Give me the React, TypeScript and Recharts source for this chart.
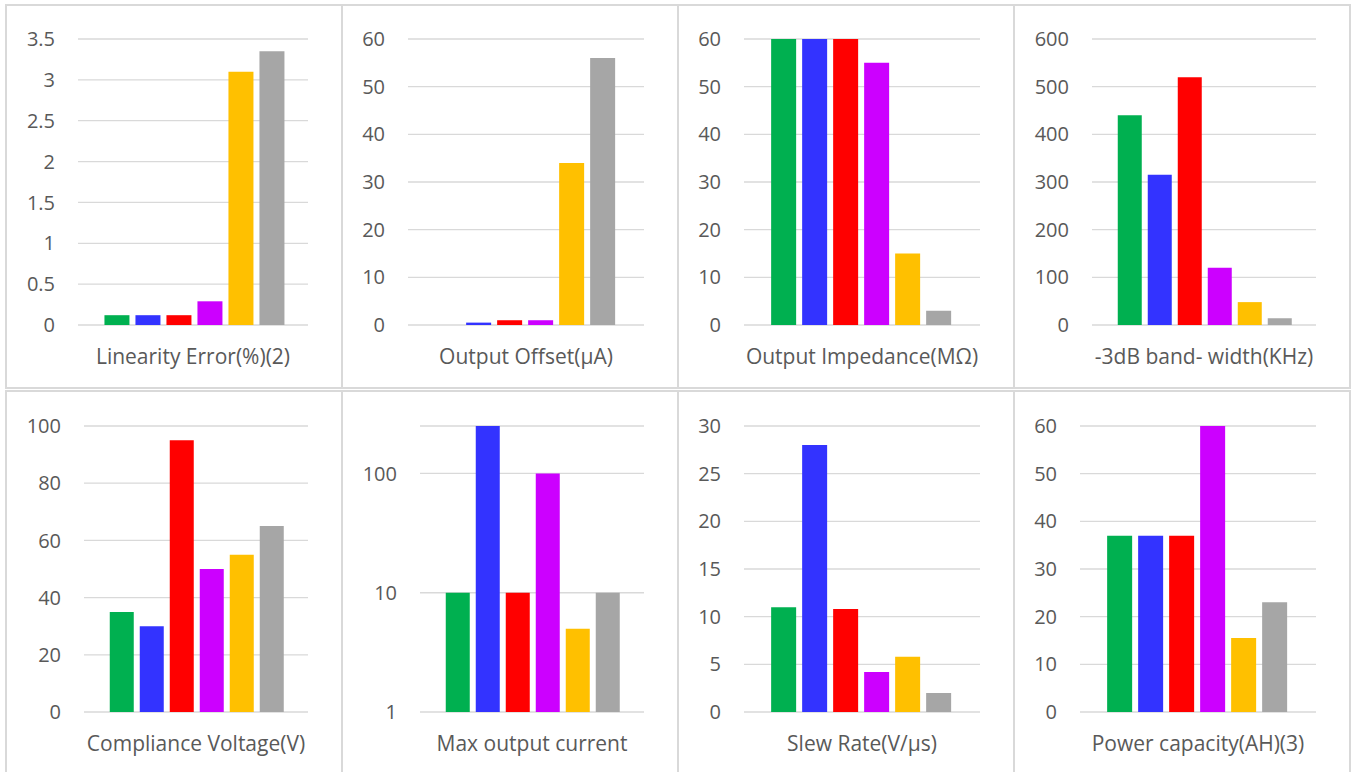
import React from "react";
import { BarChart, Bar, XAxis, YAxis, CartesianGrid } from "recharts";

// one category per small chart
const metrics = [
  "Linearity Error(%)(2)",
  "Output Offset(μA)",
  "Output Impedance(MΩ)",
  "-3dB band- width(KHz)",
  "Compliance Voltage(V)",
  "Max output current",
  "Slew Rate(V/μs)",
  "Power capacity(AH)(3)",
];

// values per series, in the order of metrics
const greenVals = [0.12, 0, 60, 440, 35, 10, 11, 37];
const blueVals = [0.12, 0.5, 60, 315, 30, 250, 28, 37];
const redVals = [0.12, 1, 60, 520, 95, 10, 10.8, 37];
const purpleVals = [0.29, 1, 55, 120, 50, 100, 4.2, 60];
const orangeVals = [3.1, 34, 15, 48, 55, 5, 5.8, 15.5];
const grayVals = [3.35, 56, 3, 14, 65, 10, 2, 23];

const seriesVals = [greenVals, blueVals, redVals, purpleVals, orangeVals, grayVals];
const colors = ["#00B050", "#3333FF", "#FF0000", "#CC00FF", "#FFC000", "#A6A6A6"];

const yTicks = [
  [0, 0.5, 1, 1.5, 2, 2.5, 3, 3.5],
  [0, 10, 20, 30, 40, 50, 60],
  [0, 10, 20, 30, 40, 50, 60],
  [0, 100, 200, 300, 400, 500, 600],
  [0, 20, 40, 60, 80, 100],
  [1, 10, 100],
  [0, 5, 10, 15, 20, 25, 30],
  [0, 10, 20, 30, 40, 50, 60],
];
const yMax = [3.5, 60, 60, 600, 100, 250, 30, 60];

const FONT = "'Open Sans', Lato, sans-serif";
const TXT = "#595959";

const panelLeft = [5, 341, 677, 1013];
const yAxisWidth = [73, 67, 67, 79, 79, 79, 67, 67];

function Panel({ i }: { i: number }) {
  const row = i < 4 ? 0 : 1;
  const left = panelLeft[i % 4];
  const top = row === 0 ? 4 : 390;
  const h = row === 0 ? 385 : 384;
  const row0: Record<string, string | number> = { name: metrics[i] };
  seriesVals.forEach((vals, k) => {
    row0["s" + k] = vals[i];
  });
  const isLog = i === 5;

  return (
    <div
      style={{
        position: "absolute",
        left,
        top,
        width: 338,
        height: h,
        border: "2px solid #D9D9D9",
        boxSizing: "border-box",
      }}
    >
      <BarChart
        width={334}
        height={h - 4}
        data={[row0]}
        margin={{ top: row === 0 ? 33 : 34, right: 33, bottom: row === 0 ? 22 : 20, left: -2 }}
        barCategoryGap="11.5%"
        barGap={6}
        style={{ position: "absolute", left: 0, top: 0 }}
      >
        <CartesianGrid vertical={false} stroke="#D9D9D9" strokeWidth={1.3} />
        <XAxis
          dataKey="name"
          type="category"
          height={40}
          axisLine={false}
          tickLine={false}
          tickSize={0}
          tickMargin={24}
          tick={{ fill: TXT, fontSize: 21, fontFamily: FONT }}
        />
        <YAxis
          type="number"
          width={yAxisWidth[i]}
          scale={isLog ? "log" : "auto"}
          domain={[isLog ? 1 : 0, yMax[i]]}
          ticks={yTicks[i]}
          allowDataOverflow
          axisLine={false}
          tickLine={false}
          tickSize={0}
          tickMargin={23}
          interval={0}
          tick={{ fill: TXT, fontSize: 20, fontFamily: FONT }}
        />
        {colors.map((c, k) => (
          <Bar key={k} dataKey={"s" + k} fill={c} isAnimationActive={false} />
        ))}
      </BarChart>
    </div>
  );
}

export default function App() {
  return (
    <div
      style={{
        position: "absolute",
        left: 0,
        top: 0,
        width: 1352,
        height: 772,
        background: "#FFFFFF",
        overflow: "hidden",
        fontFamily: FONT,
      }}
    >
      {metrics.map((_, i) => (
        <Panel key={i} i={i} />
      ))}
    </div>
  );
}
